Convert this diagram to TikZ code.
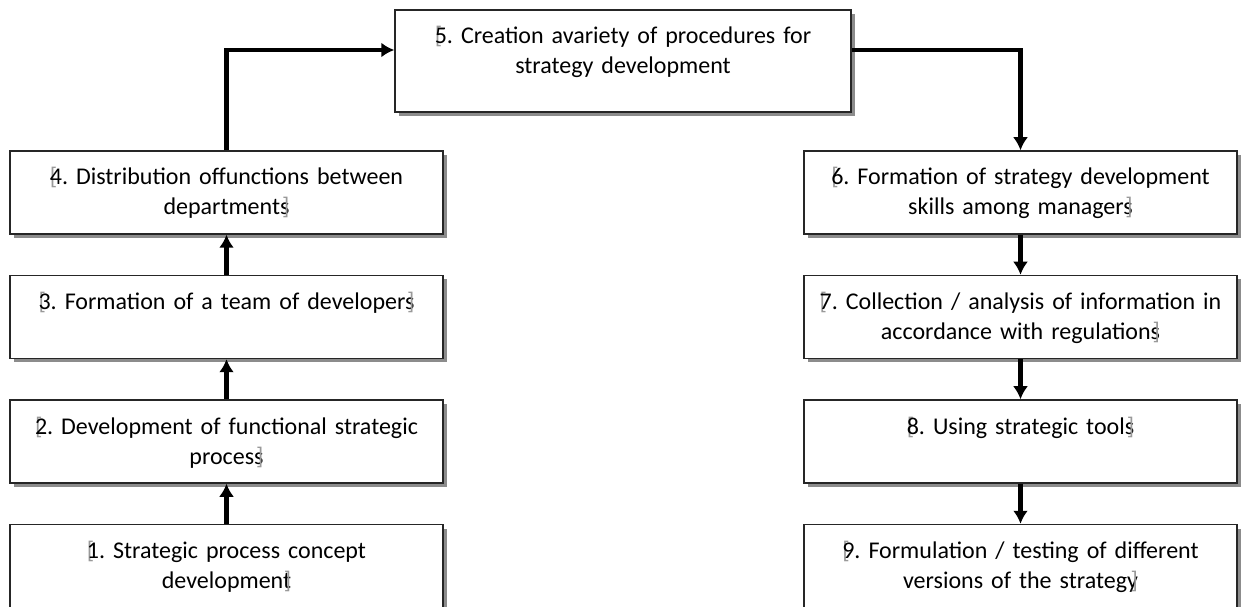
\documentclass[tikz,border=0pt]{standalone}
\usepackage{fontspec}
\setmainfont{Carlito}[WordSpace=0.7]
\frenchspacing
\usetikzlibrary{arrows.meta,calc,positioning,shadows}
\definecolor{markgray}{gray}{0.6}
\definecolor{shadowgray}{gray}{0.55}
\newcommand{\lmark}{\rlap{\textcolor{markgray}{[}}}
\newcommand{\rmark}{\llap{\textcolor{markgray}{]}}}
\tikzset{
stepbox/.style={
  rectangle,
  line width=1.5pt,
  inner xsep=4pt,
  inner ysep=0pt,
  text width=425pt,
  text height=34pt,
  text depth=49pt,
  align=center,
  draw=black!85,
  fill=white,
  font=\fontsize{24}{30}\selectfont,
  drop shadow={shadow xshift=4pt,shadow yshift=-4pt,fill=shadowgray,opacity=1},
  }
}
\tikzset{
bigbox/.style={
  stepbox,
  text width=448pt,
  text height=34pt,
  text depth=68pt,
  }
}
\tikzset{
bigline/.style={
  line width=4.5pt,
  -{Latex[length=13pt,width=15pt]}
  }
}

\begin{document}
\begin{tikzpicture}[x=1pt,y=1pt,node distance=40pt]
    \useasboundingbox (0,0) rectangle (1243,606);

    % top box
    \node[bigbox] (b5) at (623,545) {\lmark 5. Creation avariety of procedures for\\ strategy development};

    % left column
    \node[stepbox] (b4) at (226.5,413.5) {\lmark 4. Distribution offunctions between\\ departments\rmark};
    \node[stepbox, below=of b4] (b3) {\lmark 3. Formation of a team of developers\rmark};
    \node[stepbox, below=of b3] (b2) {\lmark 2. Development of functional strategic\\ process\rmark};
    \node[stepbox, below=of b2] (b1) {\lmark 1. Strategic process concept\\ development\rmark};

    % right column
    \node[stepbox] (b6) at (1020.5,413.5) {\lmark 6. Formation of strategy development\\ skills among managers\rmark};
    \node[stepbox, below=of b6] (b7) {\lmark 7. Collection / analysis of information in\\ accordance with regulations\rmark};
    \node[stepbox, below=of b7] (b8) {\lmark 8. Using strategic tools\rmark};
    \node[stepbox, below=of b8] (b9) {\lmark 9. Formulation / testing of different\\ versions of the strategy\rmark};

    % left edges
    \draw[bigline] (b1) -- (b2);
    \draw[bigline] (b2) -- (b3);
    \draw[bigline] (b3) -- (b4);
    \draw[bigline] (b4.north) |- ($(b5.west)+(0,11pt)$);

    % right edges
    \draw[bigline] ($(b5.east)+(0,11pt)$) -| (b6.north);
    \draw[bigline] (b6) -- (b7);
    \draw[bigline] (b7) -- (b8);
    \draw[bigline] (b8) -- (b9);
\end{tikzpicture}
\end{document}
